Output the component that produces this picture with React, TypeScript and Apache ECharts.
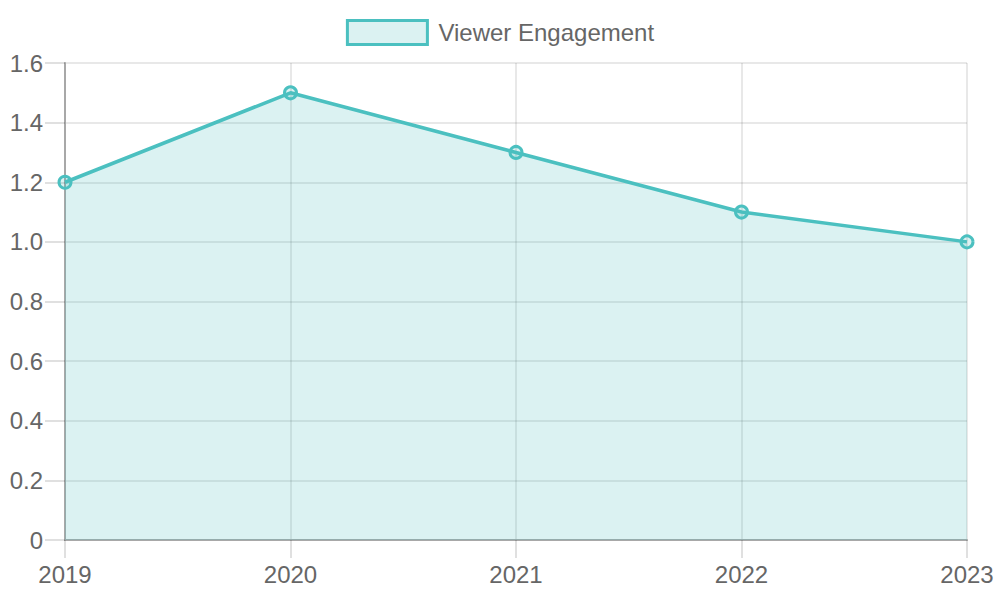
import React, { useEffect, useRef } from "react";
import * as echarts from "echarts";

const years = ["2019", "2020", "2021", "2022", "2023"];
const engagement = [1.2, 1.5, 1.3, 1.1, 1.0];
const seriesName = "Viewer Engagement";

const LINE = "#4bc0c0";
const FILL = "rgba(75,192,192,0.2)";
const GRID = "rgba(0,0,0,0.12)";
const AXIS = "#a8a8a8";
const TEXT = "#666666";
const FONT = "'Liberation Sans', Arial, Helvetica, sans-serif";

export default function App() {
  const ref = useRef<HTMLDivElement>(null);
  useEffect(() => {
    if (!ref.current) return;
    const chart = echarts.init(ref.current, undefined, { renderer: "svg" });
    chart.setOption({
      animation: false,
      textStyle: { fontFamily: FONT },
      legend: {
        top: 14,
        left: "center",
        itemWidth: 80,
        itemHeight: 24,
        itemGap: 10,
        textStyle: { color: TEXT, fontSize: 24, fontFamily: FONT, padding: [0, 0, 0, 6] },
        data: [
          {
            name: seriesName,
            icon: "rect",
            itemStyle: { color: FILL, borderColor: LINE, borderWidth: 3 },
          },
        ],
      },
      grid: { left: 65, right: 33, top: 63, bottom: 60, containLabel: false },
      xAxis: {
        type: "category",
        data: years,
        boundaryGap: false,
        axisLine: { show: true, lineStyle: { color: AXIS, width: 2 } },
        axisTick: { show: true, length: 18, alignWithLabel: true, lineStyle: { color: GRID, width: 2 } },
        axisLabel: { color: TEXT, fontSize: 24, fontFamily: FONT, margin: 22 },
        splitLine: { show: true, lineStyle: { color: GRID, width: 1.5 } },
      },
      yAxis: {
        type: "value",
        min: 0,
        max: 1.6,
        interval: 0.2,
        axisLine: { show: true, lineStyle: { color: AXIS, width: 2 } },
        axisTick: { show: true, length: 20, lineStyle: { color: GRID, width: 2 } },
        axisLabel: {
          color: TEXT,
          fontSize: 24,
          fontFamily: FONT,
          margin: 22,
          formatter: (v: number) => (v === 0 ? "0" : v.toFixed(1)),
        },
        splitLine: { show: true, lineStyle: { color: GRID, width: 1.5 } },
      },
      series: [
        {
          name: seriesName,
          type: "line",
          data: engagement,
          smooth: false,
          symbol: "circle",
          symbolSize: 12,
          lineStyle: { color: LINE, width: 3.5 },
          itemStyle: { color: FILL, borderColor: LINE, borderWidth: 3 },
          areaStyle: { color: FILL, opacity: 1 },
          z: 3,
        },
      ],
    });
    return () => chart.dispose();
  }, []);
  return (
    <div
      ref={ref}
      style={{ position: "fixed", left: 0, top: 0, width: 1000, height: 600, background: "#fff" }}
    />
  );
}
